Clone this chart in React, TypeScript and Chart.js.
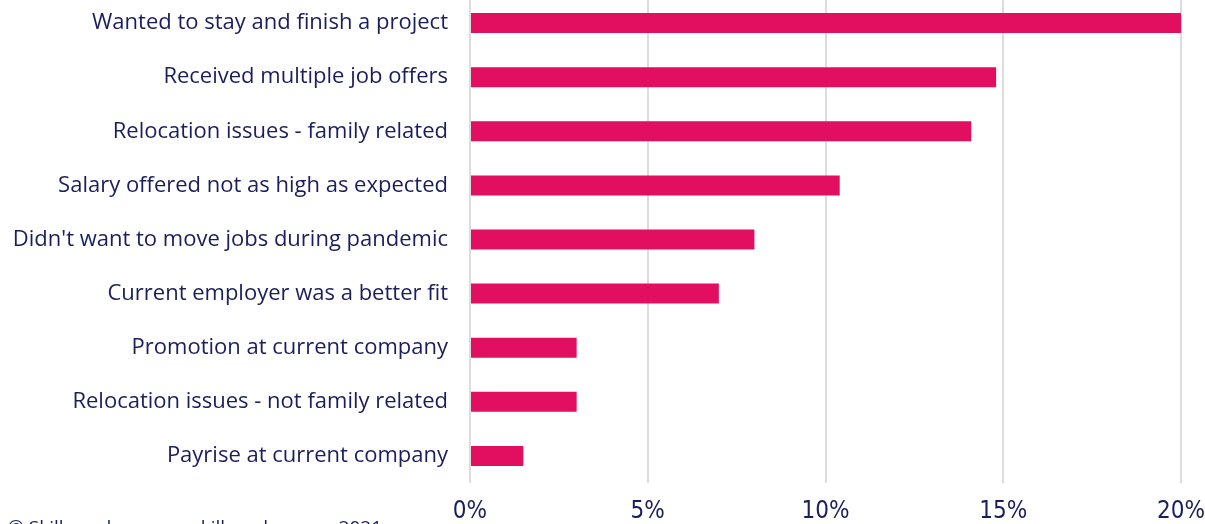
import React, { useEffect, useRef } from "react";
import { Chart, registerables } from "chart.js";

Chart.register(...registerables);

const categories = [
  "Wanted to stay and finish a project",
  "Received multiple job offers",
  "Relocation issues - family related",
  "Salary offered not as high as expected",
  "Didn't want to move jobs during pandemic",
  "Current employer was a better fit",
  "Promotion at current company",
  "Relocation issues - not family related",
  "Payrise at current company",
];
const values = [20, 14.8, 14.1, 10.4, 8.0, 7.0, 3.0, 3.0, 1.5];
const xTicks = [0, 5, 10, 15, 20];
const copyright = "© Skills and careers, skillsandcareers 2021";

const NAVY = "#1a1f5c";
const PINK = "#e20e5f";
const TOP = -4;

export default function App() {
  const ref = useRef<HTMLCanvasElement | null>(null);
  useEffect(() => {
    if (!ref.current) return;
    const footer = {
      id: "footer",
      afterDraw(chart: any) {
        const ctx = chart.ctx;
        ctx.save();
        ctx.fillStyle = NAVY;
        ctx.font = "19px 'Open Sans'";
        ctx.textBaseline = "top";
        ctx.textAlign = "left";
        ctx.fillText(copyright, 8, 519 - TOP);
        ctx.restore();
      },
    };
    const chart = new Chart(ref.current, {
      type: "bar",
      data: {
        labels: categories,
        datasets: [
          {
            data: values,
            backgroundColor: PINK,
            barPercentage: 0.74,
            categoryPercentage: 0.5,
          },
        ],
      },
      options: {
        indexAxis: "y",
        animation: false,
        responsive: false,
        maintainAspectRatio: false,
        layout: { padding: { top: 0, right: 24, bottom: 0, left: 0 } },
        plugins: { legend: { display: false }, tooltip: { enabled: false } },
        scales: {
          x: {
            min: 0,
            max: 20,
            afterBuildTicks(scale: any) {
              scale.ticks = xTicks.map((v) => ({ value: v }));
            },
            afterFit(scale: any) {
              scale.height = 41;
              scale.paddingLeft = 0;
              scale.paddingRight = 0;
            },
            grid: { color: "#dcdcdc", lineWidth: 2, drawTicks: false },
            border: { display: false },
            ticks: {
              color: NAVY,
              padding: 14,
              font: { family: "'DejaVu Sans Condensed', 'Liberation Sans Narrow', sans-serif", size: 24 },
              callback: (v: any) => v + "%",
            },
          },
          y: {
            afterFit(scale: any) {
              scale.width = 470;
              scale.paddingTop = 0;
              scale.paddingBottom = 0;
            },
            grid: { display: false },
            border: { display: false },
            ticks: {
              color: NAVY,
              padding: 14,
              font: { family: "'Open Sans'", size: 22 },
            },
          },
        },
      },
      plugins: [footer],
    });
    return () => chart.destroy();
  }, []);
  return (
    <div style={{ position: "fixed", left: 0, top: TOP, width: 1205, height: 524 - TOP, background: "#fff" }}>
      <canvas ref={ref} width={1205} height={524 - TOP} style={{ display: "block" }} />
    </div>
  );
}
